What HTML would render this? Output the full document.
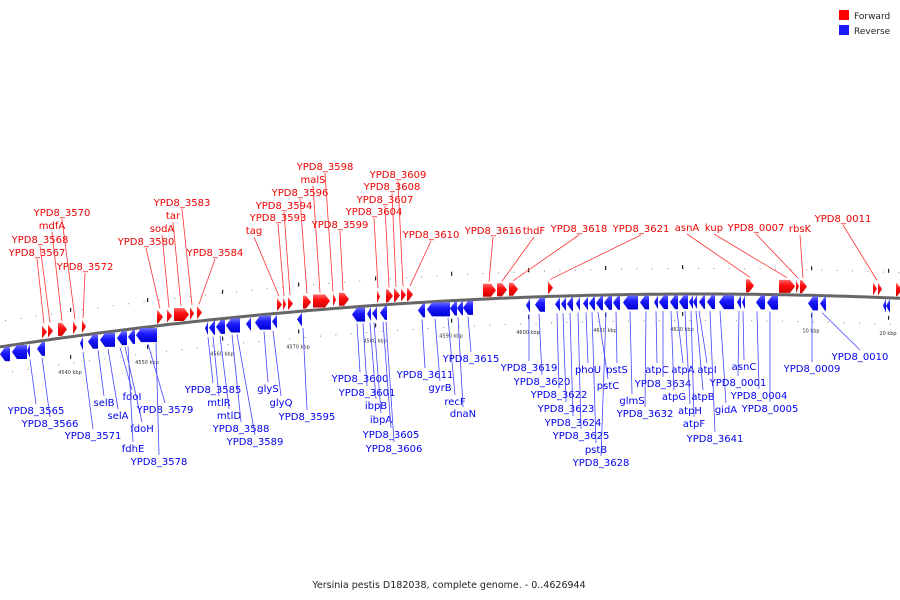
<!DOCTYPE html>
<html><head><meta charset="utf-8"><style>
body{margin:0;background:#fff}
svg{display:block;font-family:"DejaVu Sans","Liberation Sans",sans-serif}
</style></head><body>
<svg id="map" width="900" height="600" viewBox="0 0 900 600">
<defs>
<linearGradient id="gf" x1="0" y1="0" x2="0" y2="1"><stop offset="0" stop-color="#ff6a6a"/><stop offset="0.4" stop-color="#ff1010"/><stop offset="1" stop-color="#d00000"/></linearGradient>
<linearGradient id="gr" x1="0" y1="0" x2="0" y2="1"><stop offset="0" stop-color="#6a6aff"/><stop offset="0.4" stop-color="#1a1aff"/><stop offset="1" stop-color="#0000d0"/></linearGradient>
</defs>
<rect x="839" y="10" width="10" height="10" fill="#f00"/>
<text x="854" y="19" font-size="9" fill="#222">Forward</text>
<rect x="839" y="25" width="10" height="10" fill="#1a1aff"/>
<text x="854" y="34" font-size="9" fill="#222">Reverse</text>
<text x="449" y="588" font-size="9.5" text-anchor="middle" fill="#222">Yersinia pestis D182038, complete genome. - 0..4626944</text>
</svg>
<script>
const fwdGenes=[[42,47],[48,53],[58,67],[73,77],[82,86],[157,163],[167,172],[174,189],[190,194],[197,202],[277,282],[283,286],[288,293],[303,311],[313,330],[333,336],[339,349],[377,380],[386,393],[394,400],[401,406],[407,413],[483,496],[497,507],[509,518],[548,553],[746,754],[779,795],[796,799],[800,807],[873,877],[878,882],[896,902]];
const revGenes=[[0,10],[12,27],[27,30],[37,45],[80,83],[88,98],[100,115],[117,127],[128,135],[136,157],[205,208],[209,215],[216,225],[226,240],[246,251],[255,271],[272,277],[297,302],[352,365],[367,371],[372,377],[380,387],[418,425],[427,450],[450,457],[457,463],[463,473],[526,530],[535,545],[555,560],[561,566],[567,573],[576,580],[583,588],[589,595],[596,603],[604,612],[613,620],[623,638],[640,649],[654,658],[659,668],[670,678],[679,688],[689,693],[693,697],[699,705],[707,715],[719,734],[737,741],[742,745],[756,765],[767,778],[808,818],[820,826],[883,886],[886,890]];
const fwdLabels=[["YPD8_3567",37,256,44],["YPD8_3568",40,243,50],["mdfA",52,229,62],["YPD8_3570",62,216,75],["YPD8_3572",85,270,83],["YPD8_3580",146,245,160],["sodA",162,232,169],["tar",173,219,181],["YPD8_3583",182,206,192],["YPD8_3584",215,256,199],["tag",254,234,279],["YPD8_3593",278,221,284],["YPD8_3594",284,209,290],["YPD8_3596",300,196,307],["malS",313,183,320],["YPD8_3598",325,170,333],["YPD8_3599",340,228,343],["YPD8_3604",374,215,378],["YPD8_3607",385,203,389],["YPD8_3608",392,190,396],["YPD8_3609",398,178,403],["YPD8_3610",431,238,410],["YPD8_3616",493,234,489],["thdF",534,234,502],["YPD8_3618",579,232,513],["YPD8_3621",641,232,550],["asnA",687,231,750],["kup",714,231,787],["YPD8_0007",756,231,798],["rbsK",800,232,803],["YPD8_0011",843,222,877]];
const revLabels=[["YPD8_3565",36,414,30],["YPD8_3566",50,427,42],["YPD8_3571",93,439,83],["selB",104,406,98],["selA",118,419,108],["fdoI",132,400,120],["fdoH",142,432,125],["fdhE",133,452,128],["YPD8_3579",165,413,148],["YPD8_3578",159,465,156],["YPD8_3585",213,393,208],["mtlR",219,406,213],["mtlD",229,419,220],["YPD8_3588",241,432,232],["YPD8_3589",255,445,237],["glyS",268,392,264],["glyQ",281,406,273],["YPD8_3595",307,420,303],["YPD8_3600",360,382,357],["YPD8_3601",367,396,363],["ibpB",376,409,370],["ibpA",381,423,374],["YPD8_3605",391,438,383],["YPD8_3606",394,452,386],["YPD8_3611",425,378,422],["gyrB",440,391,435],["recF",455,405,448],["dnaN",463,417,458],["YPD8_3615",471,362,468],["YPD8_3619",529,371,529],["YPD8_3620",542,385,539],["YPD8_3622",559,398,557],["YPD8_3623",566,412,563],["YPD8_3624",573,426,570],["YPD8_3625",581,439,578],["phoU",588,373,586],["pstS",617,373,616],["pstC",608,389,598],["pstB",596,453,592],["YPD8_3628",601,466,606],["glmS",632,404,630],["YPD8_3632",645,417,646],["atpC",657,373,656],["YPD8_3634",663,387,663],["atpA",683,373,677],["atpG",674,400,671],["atpH",690,414,685],["atpF",694,427,691],["atpI",707,373,699],["atpB",703,400,696],["YPD8_3641",715,442,710],["gidA",726,413,720],["asnC",744,370,743],["YPD8_0001",738,386,739],["YPD8_0004",759,399,757],["YPD8_0005",770,412,770],["YPD8_0009",812,372,812],["YPD8_0010",860,360,822]];
const tickLabels=["4540 kbp","4550 kbp","4560 kbp","4570 kbp","4580 kbp","4590 kbp","4600 kbp","4610 kbp","4620 kbp","10 kbp","20 kbp"];
const tickX=[70,147,222,298,375,451,528,605,682,811,888];

const NS="http://www.w3.org/2000/svg",svg=document.getElementById('map');
function c(x){return 294+1.08e-4*(x-700)*(x-700);}
function mk(t,a,parent){const e=document.createElementNS(NS,t);for(const k in a)e.setAttribute(k,a[k]);(parent||svg).appendChild(e);return e;}
for(let x=5;x<900;x+=15.4){
  const d1=mk('rect',{x:x,y:c(x)-26,width:1,height:1,fill:'#888'});
  
  
  const d2=mk('rect',{x:x+7,y:c(x+7)+26,width:1,height:1,fill:'#888'});
  
  
}
tickX.forEach((x,i)=>{
  const t1=mk('rect',{x:x,y:c(x)-29,width:1.2,height:4,fill:'#222'});
  
  
  const t2=mk('rect',{x:x,y:c(x)+18,width:1.2,height:4,fill:'#222'});
  
  
  const tl=mk('text',{x:x,y:c(x)+37,'font-size':5,'text-anchor':'middle',fill:'#333'});
  tl.textContent=tickLabels[i];
  
  
});
let p='';for(let x=0;x<=900;x+=5)p+=(x?'L':'M')+x+' '+c(x).toFixed(1);
const bb=mk('path',{d:p,stroke:'#666',"stroke-width":3,fill:'none'});


fwdGenes.forEach(([a,b])=>{
  const y=c((a+b)/2),top=y-15,bot=y-2,h=Math.min(5,b-a),m=(top+bot)/2;
  const g=mk('polygon',{points:`${a},${top} ${b-h},${top} ${b},${m} ${b-h},${bot} ${a},${bot}`,fill:'url(#gf)'});
  
  
});
revGenes.forEach(([a,b])=>{
  const y=c((a+b)/2),top=y+1,bot=y+15,h=Math.min(5,b-a),m=(top+bot)/2;
  const g=mk('polygon',{points:`${b},${top} ${a+h},${top} ${a},${m} ${a+h},${bot} ${b},${bot}`,fill:'url(#gr)'});
  
  
});
fwdLabels.forEach(([n,x,y,gx])=>{
  const l=mk('line',{x1:x,y1:y+3,x2:gx,y2:c(gx)-17,stroke:'#f33','stroke-width':0.8});
  
  
  const t=mk('text',{x:x,y:y,'font-size':10,'text-anchor':'middle',fill:'#e00'});
  t.textContent=n;
  
  
});
revLabels.forEach(([n,x,y,gx])=>{
  const l=mk('line',{x1:gx,y1:c(gx)+17,x2:x,y2:y-10,stroke:'#44f','stroke-width':0.8});
  
  
  const t=mk('text',{x:x,y:y,'font-size':10,'text-anchor':'middle',fill:'#00e'});
  t.textContent=n;
  
  
});
</script>
</body></html>
